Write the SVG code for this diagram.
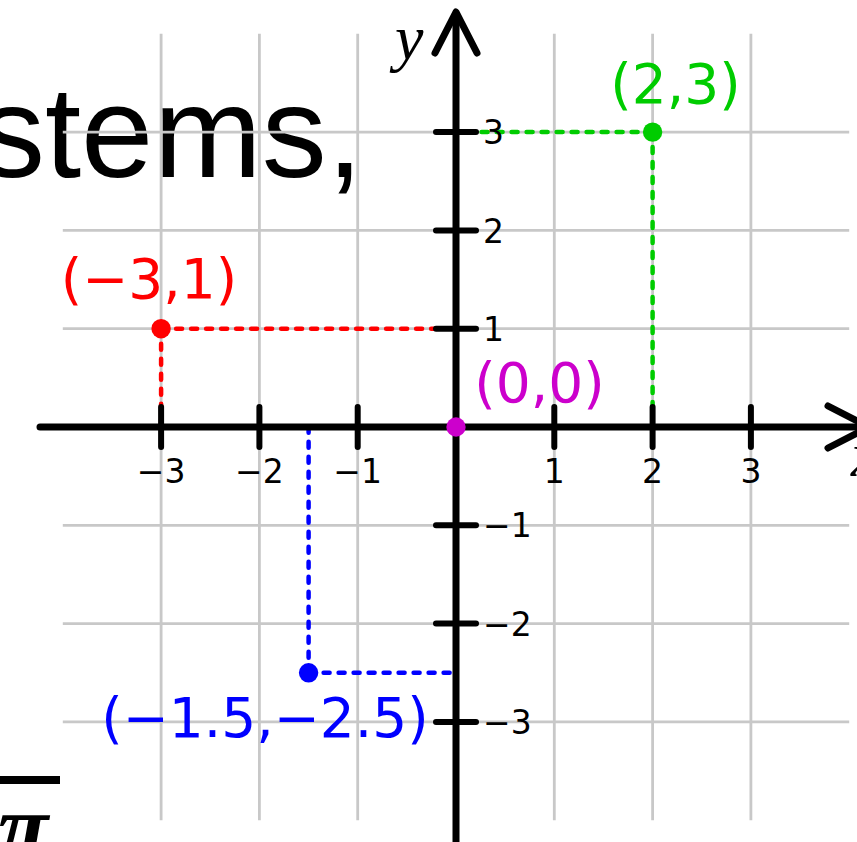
<svg xmlns="http://www.w3.org/2000/svg" width="857" height="842" viewBox="0 0 857 842">
  <style>
    .slide { font-family: "Liberation Sans", Arial, sans-serif; fill: #000; }
    .grid line { stroke: #c8c8c8; stroke-width: 2.8; }
    .axis { stroke: #000; stroke-width: 7; fill: none; stroke-linecap: round; stroke-linejoin: round; }
    .tick { stroke: #000; stroke-width: 6; stroke-linecap: round; }
    .tl { font-family: "DejaVu Sans", sans-serif; font-size: 33px; fill: #000; }
    .tlx { text-anchor: middle; }
    .pl { font-family: "DejaVu Sans", sans-serif; font-size: 55px; text-anchor: middle; }
    .dash { fill: none; stroke-width: 4.5; stroke-dasharray: 6 9; stroke-linecap: round; }
    .ax-label { font-family: "Liberation Serif", "Times New Roman", serif; font-style: italic; font-size: 64px; fill: #000; }
  </style>

  <!-- background slide fragments -->
  <g id="slide-text">
    <text class="slide" x="-20" y="177" font-size="130">stems,</text>
    <rect x="0" y="776" width="60" height="8" fill="#000"/>
    <text x="-2" y="857" font-family="Liberation Serif, serif" font-style="italic" font-weight="bold" font-size="92" fill="#000">π</text>
  </g>

  <!-- grid -->
  <g id="grid" class="grid">
    <line x1="161.1" y1="33.8" x2="161.1" y2="820.2"/>
    <line x1="259.4" y1="33.8" x2="259.4" y2="820.2"/>
    <line x1="357.7" y1="33.8" x2="357.7" y2="820.2"/>
    <line x1="554.3" y1="33.8" x2="554.3" y2="820.2"/>
    <line x1="652.6" y1="33.8" x2="652.6" y2="820.2"/>
    <line x1="750.9" y1="33.8" x2="750.9" y2="820.2"/>
    <line x1="62.8" y1="132.1" x2="849.2" y2="132.1"/>
    <line x1="62.8" y1="230.4" x2="849.2" y2="230.4"/>
    <line x1="62.8" y1="328.7" x2="849.2" y2="328.7"/>
    <line x1="62.8" y1="525.3" x2="849.2" y2="525.3"/>
    <line x1="62.8" y1="623.6" x2="849.2" y2="623.6"/>
    <line x1="62.8" y1="721.9" x2="849.2" y2="721.9"/>
  </g>

  <!-- connectors: projection lines -->
  <g id="connectors">
    <path class="dash" stroke="#ff0000" d="M161.1,328.7 H456 M161.1,328.7 V427"/>
    <path class="dash" stroke="#00cc00" d="M652.6,132.1 H456 M652.6,132.1 V427"/>
    <path class="dash" stroke="#0000ff" d="M308.6,672.8 H456 M308.6,672.8 V427"/>
  </g>

  <!-- axes -->
  <g id="axes">
    <line class="axis" x1="40" y1="427" x2="866" y2="427"/>
    <polyline class="axis" points="828,406 869,427 828,448"/>
    <line class="axis" x1="456" y1="850" x2="456" y2="15"/>
    <polyline class="axis" points="435,53 456,12 477,53"/>
    <g id="x-ticks">
      <line class="tick" x1="161.1" y1="407" x2="161.1" y2="447"/>
      <line class="tick" x1="259.4" y1="407" x2="259.4" y2="447"/>
      <line class="tick" x1="357.7" y1="407" x2="357.7" y2="447"/>
      <line class="tick" x1="554.3" y1="407" x2="554.3" y2="447"/>
      <line class="tick" x1="652.6" y1="407" x2="652.6" y2="447"/>
      <line class="tick" x1="750.9" y1="407" x2="750.9" y2="447"/>
    </g>
    <g id="y-ticks">
      <line class="tick" x1="436" y1="132.1" x2="476" y2="132.1"/>
      <line class="tick" x1="436" y1="230.4" x2="476" y2="230.4"/>
      <line class="tick" x1="436" y1="328.7" x2="476" y2="328.7"/>
      <line class="tick" x1="436" y1="525.3" x2="476" y2="525.3"/>
      <line class="tick" x1="436" y1="623.6" x2="476" y2="623.6"/>
      <line class="tick" x1="436" y1="721.9" x2="476" y2="721.9"/>
    </g>
    <g id="x-tick-labels" class="tl tlx">
      <text x="161.1" y="483">−3</text>
      <text x="259.4" y="483">−2</text>
      <text x="357.7" y="483">−1</text>
      <text x="554.3" y="483">1</text>
      <text x="652.6" y="483">2</text>
      <text x="750.9" y="483">3</text>
    </g>
    <g id="y-tick-labels" class="tl">
      <text x="483" y="144">3</text>
      <text x="483" y="242.5">2</text>
      <text x="483" y="340.5">1</text>
      <text x="483" y="537">−1</text>
      <text x="483" y="635.5">−2</text>
      <text x="483" y="734">−3</text>
    </g>
    <text class="ax-label" x="395" y="59">y</text>
    <text class="ax-label" x="851" y="476">x</text>
  </g>

  <!-- points -->
  <g id="point-red">
    <circle cx="161.1" cy="328.7" r="9.7" fill="#ff0000"/>
    <text class="pl" x="149" y="298" fill="#ff0000">(−3,1)</text>
  </g>
  <g id="point-green">
    <circle cx="652.6" cy="132.1" r="9.7" fill="#00cc00"/>
    <text class="pl" x="675.5" y="103" fill="#00cc00">(2,3)</text>
  </g>
  <g id="point-magenta">
    <circle cx="456" cy="427" r="9.7" fill="#cc00cc"/>
    <text class="pl" x="539.5" y="402" fill="#cc00cc">(0,0)</text>
  </g>
  <g id="point-blue">
    <circle cx="308.6" cy="672.8" r="9.7" fill="#0000ff"/>
    <text class="pl" x="265" y="737" fill="#0000ff">(−1.5,−2.5)</text>
  </g>
</svg>
